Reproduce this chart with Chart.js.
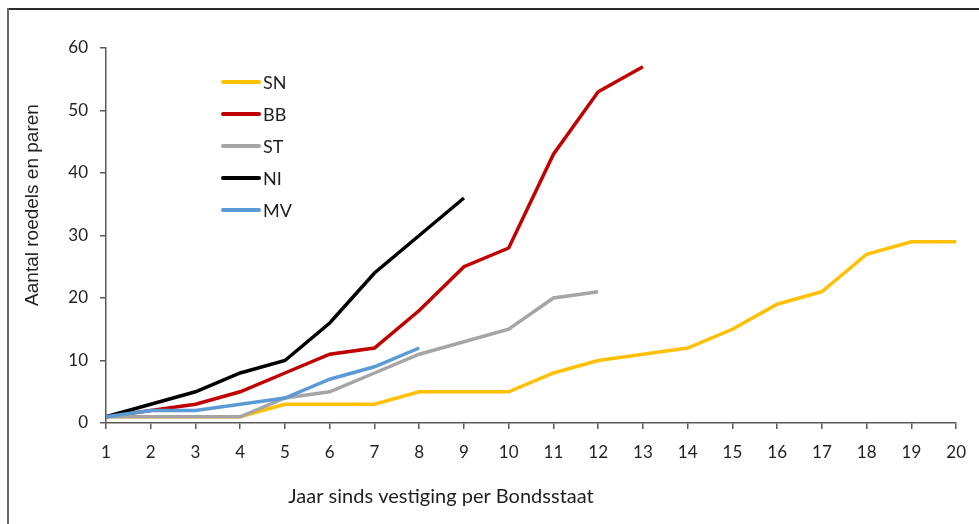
<!DOCTYPE html>
<html>
<head>
<meta charset="utf-8">
<script src="https://cdn.jsdelivr.net/npm/chart.js@4.4.1/dist/chart.umd.min.js"></script>
<style>
  html, body { margin: 0; padding: 0; background: #fff; }
  #wrap { position: relative; width: 979px; height: 524px; overflow: hidden; }
  #c { position: absolute; left: 0; top: 0; }
  .frameTop { position: absolute; left: 8px; top: 8px; width: 971px; height: 2px; background: #2b2b2b; }
  .frameLeft { position: absolute; left: 7px; top: 8px; width: 2px; height: 516px; background: #6a6a6a; }
</style>
</head>
<body>
<div id="wrap">
  <canvas id="c" width="979" height="524"></canvas>
  <div class="frameTop"></div>
  <div class="frameLeft"></div>
</div>
<script>
const years = ['1','2','3','4','5','6','7','8','9','10','11','12','13','14','15','16','17','18','19','20'];
const seriesNames = ['SN', 'BB', 'ST', 'NI', 'MV'];
const SN = [1, 1, 1, 1, 3, 3, 3, 5, 5, 5, 8, 10, 11, 12, 15, 19, 21, 27, 29, 29];
const BB = [1, 2, 3, 5, 8, 11, 12, 18, 25, 28, 43, 53, 57];
const ST = [1, 1, 1, 1, 4, 5, 8, 11, 13, 15, 20, 21];
const NI = [1, 3, 5, 8, 10, 16, 24, 30, 36];
const MV = [1, 2, 2, 3, 4, 7, 9, 12];
const yTicks = [0, 10, 20, 30, 40, 50, 60];
const yTitle = 'Aantal roedels en paren';
const xTitle = 'Jaar sinds vestiging per Bondsstaat';

const colors = ['#FFC000', '#C00000', '#A5A5A5', '#000000', '#5B9BD5'];
const values = [SN, BB, ST, NI, MV];
const TICK_FONT = 'Lato, "Open Sans", sans-serif';

const datasets = seriesNames.map((n, i) => ({
  label: n,
  data: values[i],
  borderColor: colors[i],
  backgroundColor: colors[i],
  borderWidth: 3.5,
  pointRadius: 0,
  pointHoverRadius: 0,
  tension: 0,
  fill: false,
  order: seriesNames.length - 1 - i
}));

const customText = {
  id: 'customText',
  afterDraw(chart) {
    const ctx = chart.ctx;
    ctx.save();
    // legend
    const lx0 = 223, lx1 = 259, tx = 263;
    const rows = [82, 114, 146, 178, 210];
    chart.data.datasets.forEach((ds, i) => {
      const y = rows[i];
      ctx.strokeStyle = ds.borderColor;
      ctx.lineWidth = 4;
      ctx.lineCap = 'round';
      ctx.beginPath();
      ctx.moveTo(lx0, y);
      ctx.lineTo(lx1, y);
      ctx.stroke();
      ctx.fillStyle = '#1f1f1f';
      ctx.font = '18px ' + TICK_FONT;
      ctx.textAlign = 'left';
      ctx.textBaseline = 'middle';
      ctx.fillText(ds.label, tx, y + 1);
    });
    // y title
    ctx.save();
    ctx.translate(33, 205);
    ctx.rotate(-Math.PI / 2);
    ctx.font = '19px "Liberation Sans", Arial, sans-serif';
    ctx.fillStyle = '#1f1f1f';
    ctx.textAlign = 'center';
    ctx.textBaseline = 'middle';
    ctx.fillText(yTitle, 0, 0);
    ctx.restore();
    // x title
    ctx.font = '20px ' + TICK_FONT;
    ctx.fillStyle = '#1f1f1f';
    ctx.textAlign = 'center';
    ctx.textBaseline = 'middle';
    ctx.fillText(xTitle, 441, 497);
    ctx.restore();
  }
};

new Chart(document.getElementById('c'), {
  type: 'line',
  data: { labels: years, datasets },
  options: {
    responsive: false,
    animation: false,
    events: [],
    layout: { padding: { left: 0, right: 20, top: 48, bottom: 0 } },
    plugins: { legend: { display: false }, tooltip: { enabled: false } },
    scales: {
      x: {
        type: 'category',
        offset: false,
        grid: { display: true, drawOnChartArea: false, drawTicks: true, tickLength: 6, color: '#595959', lineWidth: 1.5 },
        border: { display: true, color: '#595959', width: 1.5 },
        ticks: { color: '#1f1f1f', font: { family: TICK_FONT, size: 17 }, padding: 13, maxRotation: 0, autoSkip: false },
        afterFit(s) { s.height = 101; }
      },
      y: {
        min: 0, max: 60,
        afterBuildTicks(s) { s.ticks = yTicks.map(v => ({ value: v })); },
        grid: { display: true, drawOnChartArea: false, drawTicks: true, tickLength: 6, color: '#595959', lineWidth: 1.5 },
        border: { display: true, color: '#595959', width: 1.5 },
        ticks: { color: '#1f1f1f', font: { family: TICK_FONT, size: 17 }, padding: 12 },
        afterFit(s) { s.width = 106; }
      }
    }
  },
  plugins: [customText]
});
</script>
</body>
</html>
